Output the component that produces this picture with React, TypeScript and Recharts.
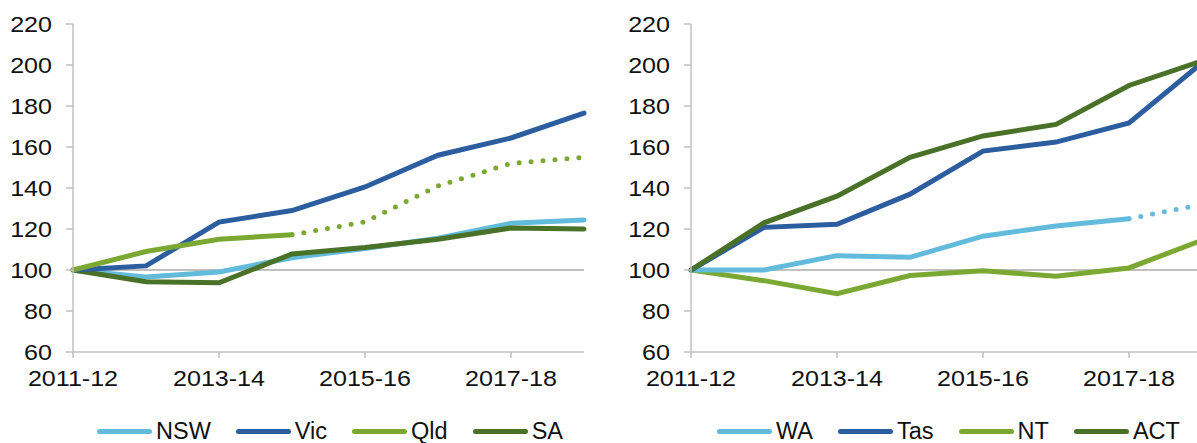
import { CartesianGrid, Line, LineChart, ReferenceLine, XAxis, YAxis } from "recharts";

const years = ["2011-12", "2012-13", "2013-14", "2014-15", "2015-16", "2016-17", "2017-18", "2018-19"];
const yTicks = [60, 80, 100, 120, 140, 160, 180, 200, 220];

// left panel
const nsw = [100, 96.6, 99, 106, 110.5, 115.5, 122.8, 124.4];
const vic = [100, 102, 123.4, 129, 140.5, 156, 164.4, 176.5];
const qld = [100, 109, 115, 117.2, null, null, null, null];
const qldProj = [null, null, null, 117.2, 123.5, 141, 152, 155];
const sa = [100, 94.3, 93.8, 107.8, 111, 115, 120.5, 120];

// right panel
const wa = [100, 100, 107, 106.2, 116.5, 121.5, 125, null];
const waProj = [null, null, null, null, null, null, 125, 132];
const tas = [100, 120.8, 122.3, 137, 158, 162.4, 171.7, 201];
const nt = [100, 94.8, 88.4, 97.3, 99.6, 97, 101, 114.5];
const act = [100, 123, 136, 155, 165.4, 171, 190, 202];

const LIGHT_BLUE = "#63bbdc";
const DARK_BLUE = "#2b5d9f";
const LIGHT_GREEN = "#7aa832";
const DARK_GREEN = "#4a7128";
const AXIS = "#c0c0c0";
const FONT = "'Liberation Sans', Arial, sans-serif";

const leftData = years.map((year, i) => ({
  year,
  nsw: nsw[i],
  vic: vic[i],
  qld: qld[i],
  qldProj: qldProj[i],
  sa: sa[i],
}));

const rightData = years.map((year, i) => ({
  year,
  wa: wa[i],
  waProj: waProj[i],
  tas: tas[i],
  nt: nt[i],
  act: act[i],
}));

const XTick = ({ x, y, payload }: any) => (
  <g transform={`translate(${x},${y})`}>
    <text transform="scale(1.14,1)" textAnchor="middle" dy="0.71em" fontSize={22} fill="#111" fontFamily={FONT}>
      {payload.value}
    </text>
  </g>
);

const YTick = ({ x, y, payload }: any) => (
  <g transform={`translate(${x},${y})`}>
    <text transform="scale(1.14,1)" textAnchor="end" dy="0.355em" fontSize={22} fill="#111" fontFamily={FONT}>
      {payload.value}
    </text>
  </g>
);

type Item = { label: string; color: string };

function LegendRow({ items, left, gap }: { items: Item[]; left: number; gap: number }) {
  return (
    <div
      style={{
        position: "absolute",
        top: 419,
        left,
        display: "flex",
        alignItems: "center",
        fontFamily: FONT,
        fontSize: 23.5,
        color: "#111",
        lineHeight: "24px",
        height: 24,
      }}
    >
      {items.map((it) => (
        <div key={it.label} style={{ display: "flex", alignItems: "center", marginRight: gap }}>
          <div style={{ width: 55, height: 5, borderRadius: 3, background: it.color, marginRight: 4 }} />
          <span>{it.label}</span>
        </div>
      ))}
    </div>
  );
}

function Panel({ data, children }: { data: any[]; children: any }) {
  return (
    <LineChart width={600} height={443} data={data} margin={{ top: 24, right: 16, bottom: 51, left: 0 }}>
      <CartesianGrid stroke="none" />
      <XAxis
        dataKey="year"
        interval={1}
        tick={<XTick />}
        tickSize={6}
        tickMargin={12}
        height={40}
        axisLine={{ stroke: AXIS, strokeWidth: 1.5 }}
        tickLine={{ stroke: AXIS, strokeWidth: 1.5 }}
      />
      <YAxis
        domain={[60, 220]}
        ticks={yTicks}
        width={73}
        tick={<YTick />}
        tickSize={7}
        tickMargin={14}
        axisLine={{ stroke: AXIS, strokeWidth: 1.5 }}
        tickLine={{ stroke: AXIS, strokeWidth: 1.5 }}
      />
      <ReferenceLine y={100} stroke={AXIS} strokeWidth={2} />
      {children}
    </LineChart>
  );
}

const solid = { type: "linear" as const, strokeWidth: 5, dot: false, activeDot: false, isAnimationActive: false, strokeLinecap: "round" as const };
const dotted = { ...solid, strokeDasharray: "0 12" };

export default function App() {
  return (
    <div style={{ position: "absolute", left: 0, top: 0, width: 1197, height: 443, overflow: "hidden", background: "#fff" }}>
      <div style={{ position: "absolute", left: 0, top: 0 }}>
        <Panel data={leftData}>
          <Line dataKey="nsw" stroke={LIGHT_BLUE} {...solid} />
          <Line dataKey="sa" stroke={DARK_GREEN} {...solid} />
          <Line dataKey="vic" stroke={DARK_BLUE} {...solid} />
          <Line dataKey="qld" stroke={LIGHT_GREEN} {...solid} />
          <Line dataKey="qldProj" stroke={LIGHT_GREEN} {...dotted} />
        </Panel>
      </div>
      <div style={{ position: "absolute", left: 618, top: 0 }}>
        <Panel data={rightData}>
          <Line dataKey="nt" stroke={LIGHT_GREEN} {...solid} />
          <Line dataKey="wa" stroke={LIGHT_BLUE} {...solid} />
          <Line dataKey="waProj" stroke={LIGHT_BLUE} {...dotted} />
          <Line dataKey="tas" stroke={DARK_BLUE} {...solid} />
          <Line dataKey="act" stroke={DARK_GREEN} {...solid} />
        </Panel>
      </div>
      <LegendRow
        left={97}
        gap={25}
        items={[
          { label: "NSW", color: LIGHT_BLUE },
          { label: "Vic", color: DARK_BLUE },
          { label: "Qld", color: LIGHT_GREEN },
          { label: "SA", color: DARK_GREEN },
        ]}
      />
      <LegendRow
        left={717}
        gap={25}
        items={[
          { label: "WA", color: LIGHT_BLUE },
          { label: "Tas", color: DARK_BLUE },
          { label: "NT", color: LIGHT_GREEN },
          { label: "ACT", color: DARK_GREEN },
        ]}
      />
    </div>
  );
}
